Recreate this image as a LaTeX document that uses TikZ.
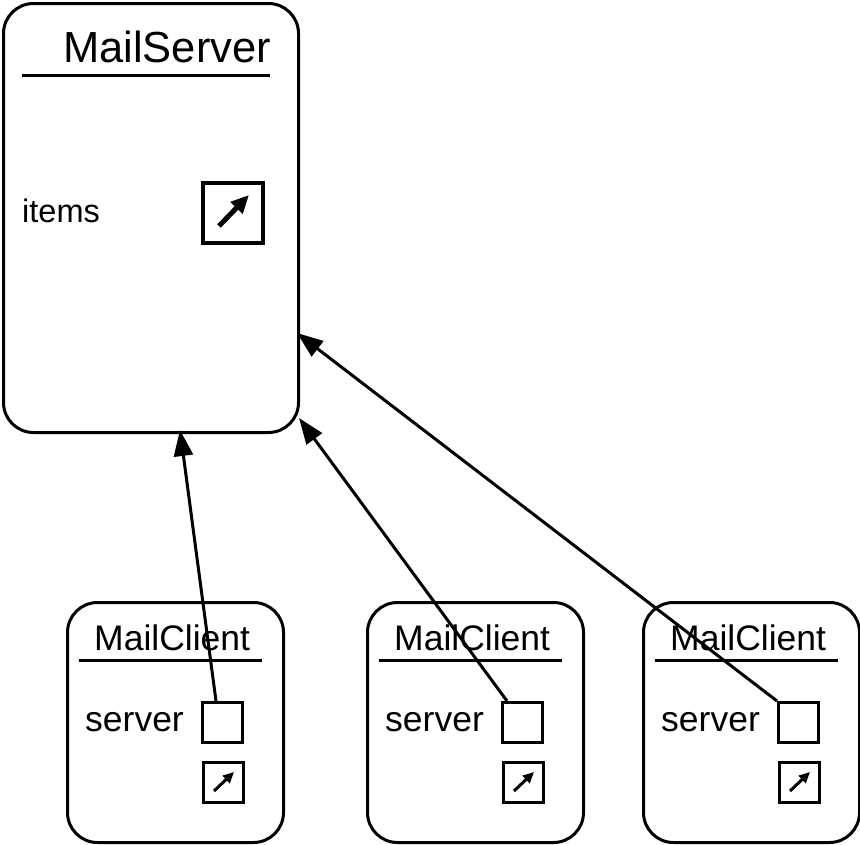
\documentclass[tikz,border=0pt]{standalone}
\usepackage{fontspec}
\setmainfont{Liberation Sans}
\usetikzlibrary{arrows.meta}
\begin{document}
\begin{tikzpicture}[x=1pt,y=-1pt,
  objbox/.style={draw,line width=3pt,rounded corners=30pt,inner sep=0pt,anchor=north west},
  slot/.style={draw,line width=3.2pt,inner sep=0pt,minimum size=40pt,anchor=north west},
  bigslot/.style={draw,line width=3.5pt,inner sep=0pt,minimum size=60pt,anchor=north west},
  lbl/.style={anchor=base west,inner sep=0pt},
  uline/.style={line width=3pt},
  link/.style={line width=3pt,-{Triangle[length=26pt 0 0,width=19pt 0 0]}},
  refarrow/.style={line width=5pt,-{Triangle[length=18pt 0 0,width=16pt 0 0]}},
  smallref/.style={line width=3pt,-{Triangle[length=11pt 0 0,width=10pt 0 0]}}]
\useasboundingbox (0,0) rectangle (860,844);
% MailServer
\node[objbox,minimum width=295pt,minimum height=429pt] (ms) at (2,2) {};
\node[lbl,font=\fontsize{43.5}{43.5}\selectfont] (mstitle) at (63,62) {MailServer};
\draw[uline] (22,75) -- (270,75);
\node[lbl,font=\fontsize{32.5}{32.5}\selectfont] (items) at (22,222) {items};
\node[bigslot] (itemsbox) at (201,181) {};
\coordinate (ia) at (219,226);
\coordinate (ib) at (249,195);
\draw[refarrow] (ia) -- (ib);
% Clients
\foreach \i/\x in {1/66,2/366,3/642}{
  \node[objbox,minimum width=216pt,minimum height=240pt] (c\i) at (\x,601) {};
  \node[lbl,font=\fontsize{35.5}{35.5}\selectfont] (c\i t) at (\x+28,650) {MailClient};
  \draw[uline] (\x+13,660) -- (\x+196,660);
  \node[lbl,font=\fontsize{35.5}{35.5}\selectfont] (c\i sv) at (\x+19,731) {server};
  \node[slot] (c\i s) at (\x+135,701) {};
  \node[slot] (c\i r) at (\x+136,761) {};
  \coordinate (c\i a) at (\x+148,791);
  \coordinate (c\i b) at (\x+168,772);
  \draw[smallref] (c\i a) -- (c\i b);
}
% links
\coordinate (t1) at (180,430);
\coordinate (t2) at (299,418);
\coordinate (t3) at (297,333);
\draw[link] ([xshift=15pt]c1s.north west) -- (t1);
\draw[link] ([xshift=6pt]c2s.north west) -- (t2);
\draw[link] (c3s.north west) -- (t3);
\end{tikzpicture}
\end{document}
